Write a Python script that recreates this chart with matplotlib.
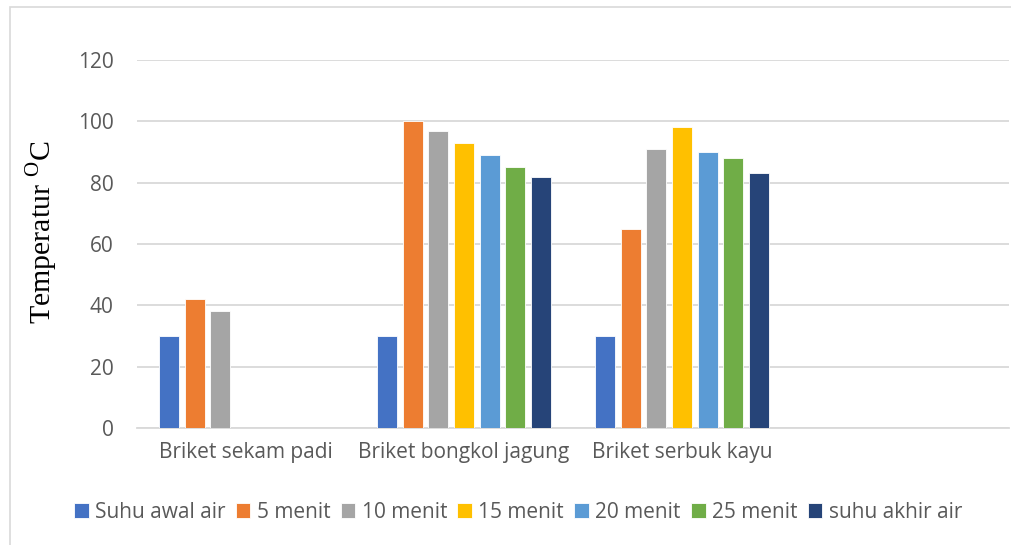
import matplotlib
matplotlib.use('Agg')
import matplotlib.pyplot as plt
import numpy as np
from matplotlib.patches import Rectangle

# data
categories = ['Briket sekam padi', 'Briket bongkol jagung', 'Briket serbuk kayu', '']
series = ['Suhu awal air', '5 menit', '10 menit', '15 menit', '20 menit', '25 menit', 'suhu akhir air']
suhu_awal = [30, 30, 30, np.nan]
menit_5 = [42, 100, 65, np.nan]
menit_10 = [38, 97, 91, np.nan]
menit_15 = [np.nan, 93, 98, np.nan]
menit_20 = [np.nan, 89, 90, np.nan]
menit_25 = [np.nan, 85, 88, np.nan]
suhu_akhir = [np.nan, 82, 83, np.nan]
yticks = [0, 20, 40, 60, 80, 100, 120]

colors = ['#4472C4', '#ED7D31', '#A5A5A5', '#FFC000', '#5B9BD5', '#70AD47', '#264478']
values = [suhu_awal, menit_5, menit_10, menit_15, menit_20, menit_25, suhu_akhir]

TXT = '#595959'
GRID = '#d9d9d9'
FS = 15

plt.rcParams['font.family'] = ['Open Sans', 'DejaVu Sans']
plt.rcParams['mathtext.fontset'] = 'custom'
plt.rcParams['mathtext.rm'] = 'Liberation Serif'

fig = plt.figure(figsize=(10.12, 5.45), dpi=100)
ax = fig.add_axes([0.1354, 0.2147, 0.8616, 0.6752])

# chart border
fig.patches.append(Rectangle((10 / 1012, -0.1), 1.2, 1 - 7 / 545 + 0.1,
                             transform=fig.transFigure, fill=False,
                             edgecolor=GRID, linewidth=1.2))

x = np.arange(len(categories))
step = 0.1174
width = 0.092
for i, (name, vals) in enumerate(zip(series, values)):
  ax.bar(x + (i - 3) * step, vals, width, color=colors[i], label=name,
         edgecolor='white', linewidth=0.6, zorder=3)

ax.set_xlim(-0.5, len(categories) - 0.5)
ax.set_ylim(0, 120)
ax.set_yticks(yticks)
ax.set_xticks(x)
ax.set_xticklabels(categories)
ax.yaxis.grid(True, color=GRID, linewidth=1.3, zorder=0)
ax.set_axisbelow(True)
for s in ['top', 'right', 'left']:
  ax.spines[s].set_visible(False)
ax.spines['bottom'].set_color(GRID)
ax.spines['bottom'].set_linewidth(1.3)
ax.tick_params(axis='both', length=0, labelsize=FS, labelcolor=TXT)
ax.tick_params(axis='y', pad=17)
ax.tick_params(axis='x', pad=10)

fig.text(42 / 1012, 1 - 232 / 545, 'Temperatur $^{\\mathrm{O}}$C', rotation=90,
         ha='center', va='center', fontsize=21.5, family='Liberation Serif', color='black')

fig.legend(loc='center', bbox_to_anchor=(518 / 1012, 1 - 512 / 545), ncol=7,
           frameon=False, fontsize=FS, labelcolor=TXT, handlelength=0.7,
           handleheight=0.7, handletextpad=0.3, columnspacing=0.5)

fig.savefig('out.png', dpi=100, facecolor='white')
